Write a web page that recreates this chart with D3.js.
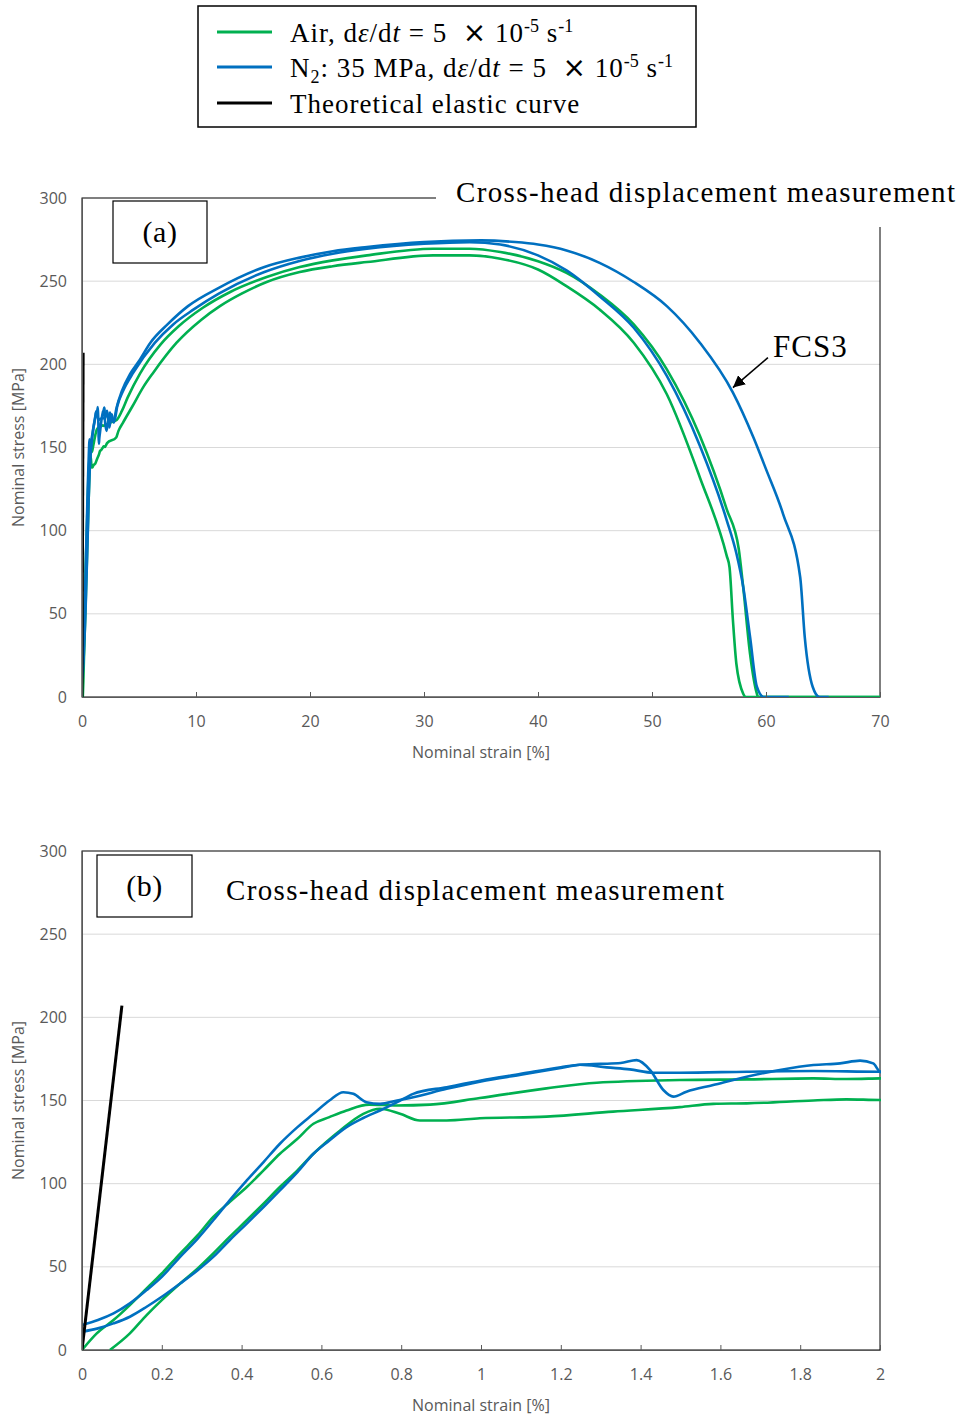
<!DOCTYPE html>
<html>
<head>
<meta charset="utf-8">
<script src="https://cdn.jsdelivr.net/npm/d3@7"></script>
<style>
  body { margin: 0; background: #fff; }
  svg { display: block; }
</style>
</head>
<body>
<svg id="fig" width="962" height="1423"></svg>
<script>
// ---- Test data: [nominal strain %, nominal stress MPa] ----
// Air, strain rate 5e-5 /s (two specimens)
const air1 = [[0,0],[0.037,10],[0.079,18],[0.12,27],[0.162,37],[0.2,46],[0.246,58],[0.29,69],[0.329,80],[0.37,89],[0.413,98],[0.455,108],[0.496,118],[0.54,127],[0.58,136],[0.62,140],[0.663,144],[0.72,147.5],[0.789,147],[0.872,147.5],[0.997,151.5],[1.164,157.3],[1.29,160.7],[1.498,162.3],[1.666,162.7],[1.833,163.3],[1.916,162.9],[2.0,163.3],[2.5,165],[3.04,166.5],[3.5,172],[4.0,180],[5.1,194.6],[6.9,212],[8.5,223],[10.6,234],[13,243.5],[16.2,252.5],[19.1,258.5],[22,262.5],[25,265.5],[30.8,269.5],[34,269.5],[36.7,267.5],[40,262],[42.5,255],[45.4,242],[48.4,224],[51.3,197],[54.2,157],[56.55,113],[57.6,89.4],[58.0,66],[58.6,26],[59.2,2],[59.3,0],[70,0]];
const air2 = [[0.07,0],[0.12,10],[0.162,21],[0.2,30],[0.246,40],[0.29,49],[0.329,58],[0.37,68],[0.413,78],[0.455,88],[0.496,98],[0.54,108],[0.58,118],[0.647,132],[0.705,142],[0.747,145],[0.797,142],[0.847,138],[0.914,138],[0.997,139.3],[1.164,140.3],[1.331,143.3],[1.498,146],[1.582,148],[1.666,148.3],[1.833,150],[1.916,150.7],[2.0,150.3],[2.2,152.6],[3.0,156],[3.2,160],[3.6,165],[4.4,174.5],[5.4,186.6],[6.25,195],[8.3,213],[10.5,227],[12.1,235],[14,242.5],[16.2,249.5],[19.1,255.5],[22,259],[25,261.5],[30.8,265.5],[34,265.5],[36.7,263.5],[40,257],[42.5,247],[45.4,233],[48.4,213],[51.3,182],[54.2,132],[56.55,85],[56.8,78],[57.1,46],[57.4,20],[58.0,2],[58.2,0],[70,0]];
// N2 at 35 MPa, strain rate 5e-5 /s (two specimens; the first is FCS3)
const n2FCS3 = [[0,15],[0.04,18],[0.079,22],[0.12,28],[0.162,36],[0.2,44],[0.246,56],[0.29,67],[0.329,78],[0.37,90],[0.413,102],[0.455,113],[0.496,124],[0.54,134],[0.58,142],[0.62,150],[0.655,155],[0.68,154],[0.713,149],[0.747,148],[0.79,150],[0.83,152],[0.914,157],[1.0,161.5],[1.1,165.5],[1.2,169.5],[1.248,171.5],[1.3,172],[1.35,172.5],[1.39,174.3],[1.424,168.3],[1.457,156.3],[1.482,152.3],[1.515,155.3],[1.582,159.3],[1.666,164.3],[1.749,168.3],[1.833,171.3],[1.9,172.3],[1.95,174],[1.983,172.3],[2.0,167.3],[2.15,160],[2.3,166],[2.45,171],[2.6,166],[2.8,166],[3.0,173],[3.5,184],[4.2,194],[5,202],[6,213],[7.5,224],[9.3,235],[12,246],[16,258.5],[19,264],[22,268],[25,270.5],[30,273.5],[35,274.5],[38,273.5],[40,272],[42.5,268.5],[45.4,261],[48.4,249.5],[51.3,235],[54.2,213],[57.1,183],[58.9,156],[60,137],[61.5,110],[63,72],[63.4,36],[64.1,6],[64.7,0],[65.5,0]];
const n2Second = [[0,11],[0.04,13],[0.079,16],[0.12,20],[0.162,26],[0.2,32],[0.246,40],[0.29,48],[0.329,56],[0.37,66],[0.413,76],[0.455,86],[0.496,96],[0.54,107],[0.58,118],[0.62,126],[0.663,134],[0.705,139.5],[0.747,144],[0.79,149],[0.83,154],[0.914,158],[1.0,162],[1.1,166],[1.2,170],[1.248,171.5],[1.315,169.9],[1.373,168.7],[1.432,166.7],[1.498,166.7],[1.666,167.3],[1.833,167.7],[2.0,167.3],[2.2,172],[2.4,162],[2.6,170],[2.8,165],[3.1,175],[3.6,184],[4.5,195],[6.4,213],[8,224],[9.8,233],[12,242.5],[16,255.5],[19,262],[22,266.5],[25,269.5],[30,272.5],[34,273.5],[36.7,272],[40,265.5],[42.5,256.5],[45.4,241],[48.4,222],[51.3,193],[54.2,151],[56.55,106.4],[57.4,86.4],[58.0,66.3],[58.6,36.3],[59.2,6.2],[59.8,0],[62,0]];
// Theoretical elastic line
const elastic = [[0,0],[0.1,207]];

// ---- Axis ticks and labels ----
const yTicks = [0,50,100,150,200,250,300];
const xTicksA = [0,10,20,30,40,50,60,70];
const xTicksB = [0,0.2,0.4,0.6,0.8,1,1.2,1.4,1.6,1.8,2];
const xTitle = "Nominal strain [%]";
const yTitle = "Nominal stress [MPa]";
const panelTitle = "Cross-head displacement measurement";
const annotation = "FCS3";

const GREEN = "#00b050", BLUE = "#0070c0", AXIS = "#595959", GRID = "#d9d9d9";
const SANS = "'Open Sans', 'Noto Sans', sans-serif";
const SERIF = "'Liberation Serif', 'DejaVu Serif', serif";

const svg = d3.select("#fig");

function panel(o) {
  const g = svg.append("g");
  const x = d3.scaleLinear().domain(o.xDomain).range([82, 880]);
  const y = d3.scaleLinear().domain([0, 300]).range([o.bottom, o.top]);

  // horizontal gridlines
  g.selectAll("line.grid").data(yTicks.filter(v => v > 0 && v < 300)).join("line")
    .attr("x1", 82).attr("x2", 880)
    .attr("y1", d => y(d)).attr("y2", d => y(d))
    .attr("stroke", GRID).attr("stroke-width", 1);

  // plot frame
  g.append("rect").attr("x", 82).attr("y", o.top)
    .attr("width", 798).attr("height", o.bottom - o.top)
    .attr("fill", "none").attr("stroke", "#000").attr("stroke-width", 1);

  const clipId = "clip-" + o.id;
  svg.append("clipPath").attr("id", clipId).append("rect")
    .attr("x", 82).attr("y", o.top - 2).attr("width", 799).attr("height", o.bottom - o.top + 3);

  const line = d3.line().x(d => x(d[0])).y(d => y(d[1])).curve(d3.curveMonotoneX);
  const curves = g.append("g").attr("clip-path", `url(#${clipId})`);
  [[air1, GREEN], [air2, GREEN], [n2Second, BLUE], [n2FCS3, BLUE], [elastic, "#000"]]
    .forEach(([data, color]) => {
      curves.append("path").attr("d", line(data))
        .attr("fill", "none").attr("stroke", color)
        .attr("stroke-width", color === "#000" ? 3 : 2.6)
        .attr("stroke-linejoin", "round");
    });

  // x axis with inward ticks
  const xa = g.append("g").attr("transform", `translate(0,${o.bottom})`)
    .call(d3.axisBottom(x).tickValues(o.xTicks).tickFormat(d => String(d))
      .tickSizeInner(-5).tickSizeOuter(0).tickPadding(19));
  xa.select(".domain").attr("stroke", AXIS);
  xa.selectAll(".tick line").attr("stroke", AXIS);
  xa.selectAll("text").attr("fill", AXIS).style("font-family", SANS).style("font-size", "16px");

  // y axis
  const ya = g.append("g").attr("transform", "translate(82,0)")
    .call(d3.axisLeft(y).tickValues(yTicks).tickSize(0).tickPadding(15));
  ya.select(".domain").attr("stroke", AXIS);
  ya.selectAll("text").attr("fill", AXIS).style("font-family", SANS).style("font-size", "16px");

  // axis titles
  g.append("text").attr("x", 481).attr("y", o.bottom + 61)
    .attr("text-anchor", "middle").attr("fill", AXIS)
    .style("font-family", SANS).style("font-size", "16px").text(xTitle);
  g.append("text").attr("transform", `translate(24,${(o.top + o.bottom) / 2}) rotate(-90)`)
    .attr("text-anchor", "middle").attr("fill", AXIS)
    .style("font-family", SANS).style("font-size", "16px").text(yTitle);

  // panel label box
  g.append("rect").attr("x", o.box[0]).attr("y", o.box[1]).attr("width", o.box[2]).attr("height", o.box[3])
    .attr("fill", "#fff").attr("stroke", "#000").attr("stroke-width", 1.2);
  g.append("text").attr("x", o.box[0] + o.box[2] / 2).attr("y", o.box[1] + o.box[3] / 2 + 10)
    .attr("text-anchor", "middle").style("font-family", SERIF).style("font-size", "30px")
    .style("letter-spacing", "0.5px").text(o.label);

  return { g, x, y };
}

// ---- Panel (a): full range ----
const pa = panel({ id: "a", xDomain: [0, 70], xTicks: xTicksA, top: 198, bottom: 697,
  box: [113, 201, 94, 62], label: "(a)" });
// the title breaks the frame at the top-right corner
pa.g.append("rect").attr("x", 436).attr("y", 168).attr("width", 526).attr("height", 59).attr("fill", "#fff");
pa.g.append("text").attr("x", 456).attr("y", 202)
  .attr("textLength", 499).attr("lengthAdjust", "spacing")
  .style("font-family", SERIF).style("font-size", "29px").text(panelTitle);

// FCS3 annotation arrow pointing at the N2 curve
const tip = [pa.x(57.1), pa.y(186)];
svg.append("defs").append("marker").attr("id", "arrowhead")
  .attr("viewBox", "0 0 10 10").attr("refX", 10).attr("refY", 5)
  .attr("markerWidth", 12).attr("markerHeight", 12).attr("markerUnits", "userSpaceOnUse")
  .attr("orient", "auto")
  .append("path").attr("d", "M0,0 L10,5 L0,10 z").attr("fill", "#000");
pa.g.append("line").attr("x1", tip[0] + 35).attr("y1", tip[1] - 30).attr("x2", tip[0]).attr("y2", tip[1])
  .attr("stroke", "#000").attr("stroke-width", 1.6).attr("marker-end", "url(#arrowhead)");
pa.g.append("text").attr("x", 773).attr("y", 357)
  .style("font-family", SERIF).style("font-size", "31px").style("letter-spacing", "1px").text(annotation);

// ---- Panel (b): small-strain detail ----
const pb = panel({ id: "b", xDomain: [0, 2], xTicks: xTicksB, top: 851, bottom: 1350,
  box: [97, 855, 95, 62], label: "(b)" });
pb.g.append("text").attr("x", 226).attr("y", 900)
  .attr("textLength", 498).attr("lengthAdjust", "spacing")
  .style("font-family", SERIF).style("font-size", "29px").text(panelTitle);

// ---- Legend ----
const lg = svg.append("g");
lg.append("rect").attr("x", 198).attr("y", 6).attr("width", 498).attr("height", 121)
  .attr("fill", "#fff").attr("stroke", "#000").attr("stroke-width", 1.5);
const legendItems = [
  { color: GREEN, y: 32, parts: [["Air, d"],["ε","i"],["/d"],["t","i"],[" = 5\u00a0\u00a0"],["×","x"],[" 10"],["-5","sup"],[" s"],["-1","sup"]] },
  { color: BLUE, y: 67, parts: [["N"],["2","sub"],[": 35 MPa, d"],["ε","i"],["/d"],["t","i"],[" = 5\u00a0\u00a0"],["×","x"],[" 10"],["-5","sup"],[" s"],["-1","sup"]] },
  { color: "#000", y: 103, parts: [["Theoretical elastic curve"]] }
];
legendItems.forEach(it => {
  lg.append("line").attr("x1", 217).attr("x2", 272).attr("y1", it.y).attr("y2", it.y)
    .attr("stroke", it.color).attr("stroke-width", 3.2);
  const t = lg.append("text").attr("x", 290).attr("y", it.y + 10)
    .style("font-family", SERIF).style("font-size", "27px").style("letter-spacing", "1px")
    .attr("xml:space", "preserve");
  let shift = 0;
  it.parts.forEach(([s, kind]) => {
    const ts = t.append("tspan").text(s);
    let target = 0;
    if (kind === "sup") { ts.style("font-size", "18px").style("letter-spacing", "0px"); target = -10; }
    else if (kind === "sub") { ts.style("font-size", "18px"); target = 6; }
    else if (kind === "i") { ts.style("font-style", "italic"); }
    else if (kind === "x") { ts.style("font-family", "'DejaVu Sans', sans-serif").style("font-size", "28px"); }
    ts.attr("dy", target - shift);
    shift = target;
  });
});
</script>
</body>
</html>
